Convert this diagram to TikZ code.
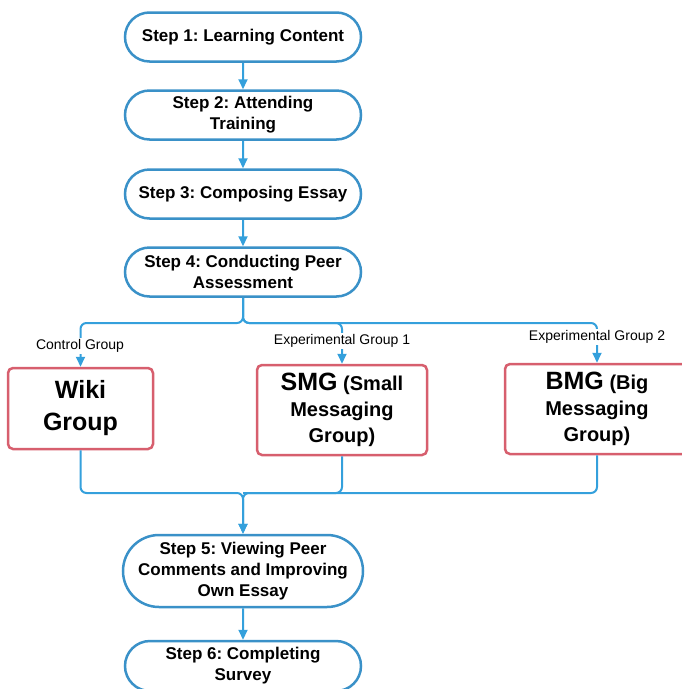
\documentclass[tikz,border=0pt]{standalone}
\usepackage{fontspec}
\setmainfont{Liberation Sans}
\usetikzlibrary{arrows.meta,shapes.misc}
\definecolor{lblue}{RGB}{58,145,200}
\definecolor{cblue}{RGB}{52,160,220}
\definecolor{lred}{RGB}{215,95,110}
\frenchspacing
\tikzset{
    >={Triangle[length=10pt,width=9pt]},
    rndblu/.style={rounded rectangle,draw=lblue,line width=2.5pt,fill=white,minimum width=236pt,minimum height=49pt,align=center,font=\fontsize{17}{21}\selectfont\bfseries,inner sep=0pt},
    recred/.style={rectangle,rounded corners=5pt,draw=lred,line width=2.5pt,fill=white,align=center,inner sep=0pt,font=\fontsize{20}{26}\selectfont\bfseries},
    connblu/.style={draw=cblue,line width=2pt,rounded corners=6pt},
    grptag/.style={fill=white,inner sep=1.5pt,font=\fontsize{14}{16}\selectfont}
}

\begin{document}
\begin{tikzpicture}[x=1pt,y=-1pt]
        \useasboundingbox (0,0) rectangle (682,689);

        % Steps
        \node[rndblu] (step1) at (243,37) {Step 1: Learning Content};
        \node[rndblu] (step2) at (243,115) {Step 2: Attending\\Training};
        \node[rndblu] (step3) at (243,194) {Step 3: Composing Essay};
        \node[rndblu] (step4) at (243,272) {Step 4: Conducting Peer\\Assessment};
        \node[rndblu,minimum width=240pt,minimum height=72pt] (step5) at (243,571) {Step 5: Viewing Peer\\Comments and Improving\\Own Essay};
        \node[rndblu,minimum height=50pt] (step6) at (243,666) {Step 6: Completing\\Survey};

        % Groups
        \node[recred,minimum width=145pt,minimum height=81pt,font=\fontsize{25}{32}\selectfont\bfseries] (wikibox) at (80.5,408.5) {Wiki\\Group};
        \node[recred,minimum width=170pt,minimum height=90pt] (smgbox) at (342,410) {{\fontsize{25}{26}\selectfont SMG} (Small\\Messaging\\Group)};
        \node[recred,minimum width=184pt,minimum height=90pt] (bmgbox) at (597,409) {{\fontsize{25}{26}\selectfont BMG} (Big\\Messaging\\Group)};

        \coordinate (splittop) at (243,323);
        \coordinate (mergebot) at (243,493);

        % Connectors
        \draw[connblu,->] (step1) -- (step2);
        \draw[connblu,->] (step2) -- (step3);
        \draw[connblu,->] (step3) -- (step4);
        \draw[connblu,->] (step4.south) -- (splittop) -| (wikibox.north);
        \draw[connblu,->] (step4.south) -- (splittop) -| (smgbox.north);
        \draw[connblu,->] (step4.south) -- (splittop) -| (bmgbox.north);
        \draw[connblu,->] (wikibox.south) |- (mergebot) -- (step5.north);
        \draw[connblu] (smgbox.south) |- (mergebot);
        \draw[connblu,->] (bmgbox.south) |- (mergebot) -- (step5.north);
        \draw[connblu,->] (step5) -- (step6);

        % Group tags
        \node[grptag] (ctrltag) at (80,346) {Control Group};
        \node[grptag] (exp1tag) at (342,341) {Experimental Group 1};
        \node[grptag] (exp2tag) at (597,337) {Experimental Group 2};
    \end{tikzpicture}
\end{document}
